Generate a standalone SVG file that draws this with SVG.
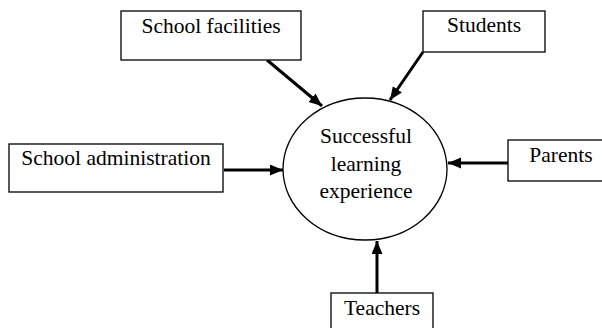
<svg xmlns="http://www.w3.org/2000/svg" width="602" height="328" viewBox="0 0 602 328">
<style>
.box{fill:#fff;stroke:#000;stroke-width:1.3}
.t{font-family:"Liberation Serif","Times New Roman",serif;font-size:21.5px;fill:#000;text-anchor:middle}
.c{fill:none;stroke:#000;stroke-width:3}
</style>
<defs>
<marker id="ah" markerUnits="userSpaceOnUse" markerWidth="14" markerHeight="12" refX="13" refY="5.5" orient="auto">
<path d="M0,0 L13,5.5 L0,11 z" fill="#000"/>
</marker>
</defs>
<rect width="602" height="328" fill="#fff"/>
<g id="connectors">
<line class="c" x1="267" y1="60" x2="322" y2="106" marker-end="url(#ah)"/>
<line class="c" x1="423" y1="52" x2="390" y2="100" marker-end="url(#ah)"/>
<line class="c" x1="224" y1="170" x2="283" y2="170" marker-end="url(#ah)"/>
<line class="c" x1="508" y1="163" x2="448" y2="163" marker-end="url(#ah)"/>
<line class="c" x1="377" y1="293" x2="377" y2="241" marker-end="url(#ah)"/>
</g>
<g id="center">
<ellipse cx="365" cy="169" rx="82" ry="71" fill="#fff" stroke="#000" stroke-width="1.3"/>
<text class="t" x="366" y="143">Successful</text>
<text class="t" x="366" y="171">learning</text>
<text class="t" x="366" y="198">experience</text>
</g>
<g id="school-facilities">
<rect class="box" x="121" y="11" width="180" height="49"/>
<text class="t" x="211" y="33">School facilities</text>
</g>
<g id="students">
<rect class="box" x="423" y="11" width="122" height="41"/>
<text class="t" x="484" y="32">Students</text>
</g>
<g id="school-administration">
<rect class="box" x="9" y="144" width="214" height="48"/>
<text class="t" x="116" y="165">School administration</text>
</g>
<g id="parents">
<rect class="box" x="508" y="140" width="104" height="41"/>
<text class="t" x="561" y="162">Parents</text>
</g>
<g id="teachers">
<rect class="box" x="331" y="293" width="102" height="45"/>
<text class="t" x="382" y="315">Teachers</text>
</g>
</svg>
